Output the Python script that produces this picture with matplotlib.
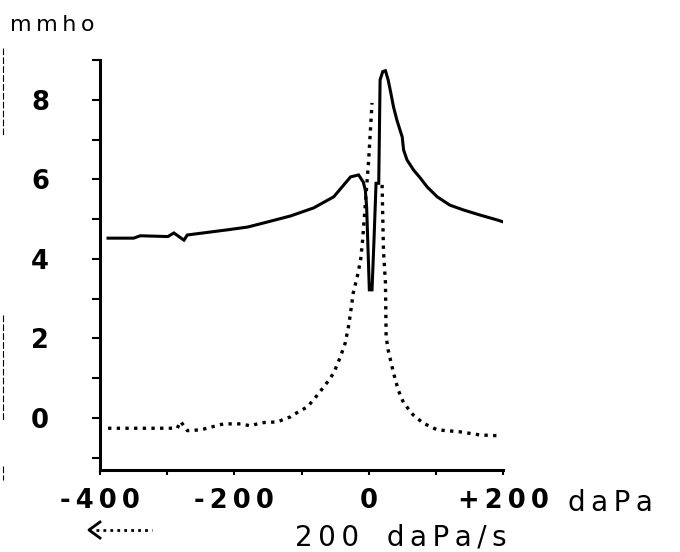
import numpy as np
import matplotlib
matplotlib.use("Agg")
import matplotlib.pyplot as plt
from matplotlib.lines import Line2D

# solid trace (mmho vs daPa)
solid_x = [-388, -350, -340, -299, -290, -275, -270, -210, -180, -150, -116, -82, -52, -41,
           -27, -15, -8, -5, -3, 1, 5, 8, 11, 15, 17, 21, 25, 29, 33, 37, 42, 50, 52, 57,
           67, 77, 87, 102, 121, 141, 166, 191, 200]
solid_y = [4.52, 4.52, 4.58, 4.56, 4.65, 4.47, 4.60, 4.73, 4.80, 4.93, 5.08, 5.28, 5.56, 5.78,
           6.06, 6.11, 5.93, 5.73, 5.30, 3.22, 3.22, 4.50, 5.90, 5.90, 8.50, 8.71, 8.73, 8.50,
           8.17, 7.82, 7.49, 7.06, 6.74, 6.49, 6.23, 6.03, 5.81, 5.56, 5.35, 5.23, 5.10, 4.98, 4.93]

# dotted trace
dot_x = [-388, -340, -300, -285, -280, -270, -250, -216, -190, -176, -160, -136, -116, -112, -91,
         -76, -61, -52, -42, -35, -30, -27, -23, -17, -12, -9, 0, 5, np.nan,
         20, 22, 25, 26, 29, 37, 44, 52, 66, 81, 102, 136, 166, 196]
dot_y = [-0.26, -0.26, -0.26, -0.26, -0.09, -0.32, -0.30, -0.15, -0.15, -0.20, -0.12, -0.10, 0.03,
         0.08, 0.28, 0.58, 0.91, 1.13, 1.54, 1.88, 2.30, 2.64, 3.14, 3.55, 3.97, 4.47, 6.49, 7.92,
         np.nan, 5.86, 4.22, 3.39, 2.04, 1.71, 1.13, 0.70, 0.38, 0.08, -0.13, -0.30, -0.35, -0.43, -0.45]

xticks = [-400, -300, -200, -100, 0, 100, 200]
xlabels = ["-\u20094\u20090\u20090", "", "-\u20092\u20090\u20090", "", "0", "", "+\u20092\u20090\u20090"]
yticks = list(range(-1, 10))
ylabels = ["" if v % 2 or v < 0 else "\u2009".join(str(v)) for v in yticks]

fig = plt.figure(figsize=(6.8, 5.52), dpi=100)
ax = fig.add_axes([100 / 680, 82 / 552, 403 / 680, 410 / 552])

ax.plot(solid_x, solid_y, color="black", lw=2.2, solid_joinstyle="miter")
ax.plot(dot_x, dot_y, color="black", lw=2.4, linestyle=(0, (1, 1.6)), dash_capstyle="butt")

ax.set_xlim(-400, 200)
ax.set_ylim(-1.31, 9.0)
for s in ["top", "right"]:
    ax.spines[s].set_visible(False)
for s in ["left", "bottom"]:
    ax.spines[s].set_linewidth(2.2)

ax.set_xticks(xticks)
ax.set_xticklabels(xlabels, fontsize=18.5, fontweight="bold", family="DejaVu Sans")
ax.set_yticks(yticks)
ax.set_yticklabels(ylabels, fontsize=18.5, fontweight="bold", family="DejaVu Sans")
ax.tick_params(axis="y", direction="out", length=5.8, width=1.5, pad=31)
ax.tick_params(axis="x", direction="out", length=3.6, width=1.5, pad=9)

fig.text(10 / 680, (552 - 31) / 552, "m\u2009m\u2009h\u2009o", fontsize=16,
         family="DejaVu Sans", va="baseline")
fig.text(568 / 680, (552 - 511) / 552, "d\u2009a\u2009P\u2009a", fontsize=20,
         family="DejaVu Sans", va="baseline")
fig.text(295 / 680, (552 - 546) / 552, "2\u20090\u20090\u2003d\u2009a\u2009P\u2009a\u2009/\u2009s",
         fontsize=20, family="DejaVu Sans", va="baseline")

# direction arrow with dotted shaft
ay = (552 - 530) / 552
fig.add_artist(Line2D([96 / 680, 152 / 680], [ay, ay], color="black", lw=2,
                      linestyle=(0, (1, 1.5))))
fig.add_artist(Line2D([100 / 680, 89 / 680, 100 / 680], [ay + 8 / 552, ay, ay - 8 / 552],
                      color="black", lw=2))

# scan edge marks
for y0, y1 in [(48, 135), (315, 420), (466, 480)]:
    fig.add_artist(Line2D([3 / 680, 3 / 680], [(552 - y0) / 552, (552 - y1) / 552],
                          color="black", lw=0.8, linestyle=(0, (6, 2))))

fig.savefig("out.png", dpi=100)
